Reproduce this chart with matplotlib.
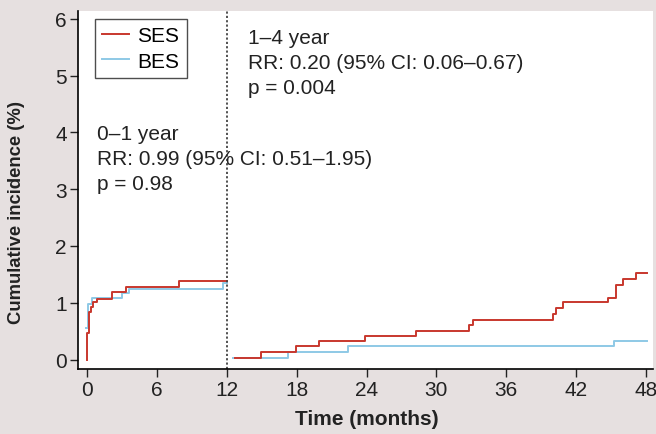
import matplotlib.pyplot as plt

plt.rcParams['font.family'] = ['Liberation Sans', 'DejaVu Sans']

# first year (0-12 months)
ses_t1 = [0, 0, 0.14, 0.26, 0.49, 0.86, 2.12, 3.30, 7.89, 12.0]
ses_v1 = [0, 0.47, 0.83, 0.92, 1.02, 1.065, 1.18, 1.28, 1.38, 1.38]
bes_t1 = [-0.1, 0.05, 0.35, 2.93, 3.56, 11.68, 12.0]
bes_v1 = [0.55, 0.98, 1.08, 1.17, 1.25, 1.35, 1.35]

# landmark 1-4 years (12-48 months)
ses_t2 = [12.69, 14.9, 17.94, 19.92, 23.88, 28.27, 32.84, 33.16, 40.05, 40.31,
          40.85, 44.79, 45.48, 46.08, 47.14, 48.09]
ses_v2 = [0.03, 0.13, 0.23, 0.32, 0.41, 0.51, 0.60, 0.70, 0.81, 0.91,
          1.01, 1.09, 1.31, 1.41, 1.53, 1.53]
bes_t2 = [12.54, 17.2, 22.42, 45.27, 48.15]
bes_v2 = [0.03, 0.13, 0.23, 0.32, 0.32]

x_ticks = [0, 6, 12, 18, 24, 30, 36, 42, 48]
y_ticks = [0, 1, 2, 3, 4, 5, 6]

red = '#c8372d'
blue = '#8ec9e6'
bg = '#e6e0e0'
fs = 15

fig = plt.figure(figsize=(6.56, 4.35), dpi=100, facecolor=bg)
ax = fig.add_axes([0.119, 0.149, 0.876, 0.824])

ax.step(bes_t1, bes_v1, where='post', color=blue, lw=1.4)
ax.step(ses_t1, ses_v1, where='post', color=red, lw=1.4, label='SES')
ax.step(bes_t2, bes_v2, where='post', color=blue, lw=1.4, label='BES')
ax.step(ses_t2, ses_v2, where='post', color=red, lw=1.4)
ax.axvline(12, color='#444444', lw=1.3, ls=(0, (1.2, 1.2)))

ax.set_xlim(-0.81, 48.6)
ax.set_ylim(-0.17, 6.14)
ax.set_xticks(x_ticks)
ax.set_yticks(y_ticks)
ax.tick_params(direction='out', length=6, width=1, labelsize=fs, colors='#222222', pad=2)
for s in ['top', 'right']:
    ax.spines[s].set_visible(False)
for s in ['left', 'bottom']:
    ax.spines[s].set_linewidth(1.2)

ax.set_xlabel('Time (months)', fontsize=15, fontweight='bold', color='#222222')
ax.set_ylabel('Cumulative incidence (%)', fontsize=13.3, fontweight='bold', color='#222222')
ax.xaxis.set_label_coords(0.503, -0.112)
ax.yaxis.set_label_coords(-0.092, 0.44)

ax.text(13.8, 5.83, '1\u20134 year\nRR: 0.20 (95% CI: 0.06\u20130.67)\np = 0.004',
        fontsize=fs, va='top', ha='left', color='#222222', linespacing=1.4)
ax.text(0.8, 4.15, '0\u20131 year\nRR: 0.99 (95% CI: 0.51\u20131.95)\np = 0.98',
        fontsize=fs, va='top', ha='left', color='#222222', linespacing=1.4)

handles, labels = ax.get_legend_handles_labels()
leg = ax.legend(handles, labels, loc='upper left', bbox_to_anchor=(0.029, 0.977),
                borderaxespad=0, fontsize=fs, frameon=True, fancybox=False,
                handlelength=1.3, handletextpad=0.4, borderpad=0.35, labelspacing=0.3)
leg.get_frame().set_edgecolor('#222222')
leg.get_frame().set_linewidth(1.0)

fig.savefig('out.png', dpi=100, facecolor=bg)
